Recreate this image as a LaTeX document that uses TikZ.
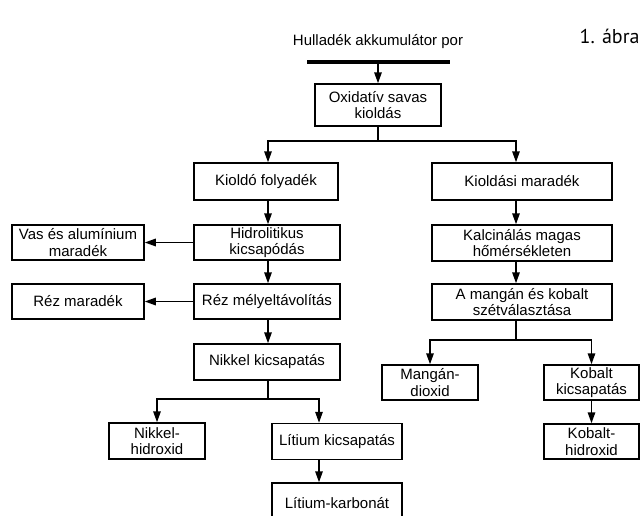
\documentclass[tikz,border=0pt]{standalone}
\usepackage{fontspec}
\setmainfont{Liberation Sans}
\newfontfamily\capfont{PT Sans}
\usetikzlibrary{arrows.meta}
\begin{document}
\begin{tikzpicture}[x=1pt,y=-1pt,
  box/.style={draw, line width=1.5pt, inner sep=0pt, align=center,
    font=\fontsize{15}{16.5}\selectfont},
  ln/.style={line width=1.5pt},
  arr/.style={line width=1.5pt, -{Triangle[length=11pt,width=7.5pt]}}]
\useasboundingbox (0,0) rectangle (642,515);
\clip (0,0) rectangle (642,515);

% title
\node[font=\capfont\fontsize{20}{22}\selectfont, anchor=east] (title) at (643,36) {1. ábra};

% source
\node[font=\fontsize{15}{16.5}\selectfont] (src) at (378,42) {Hulladék akkumulátor por};
\coordinate (barL) at (307,62);
\coordinate (barR) at (450,62);
\coordinate (barM) at (378,62);
\draw[line width=4pt] (barL) -- (barR);

% chain x coordinates
\coordinate (xL) at (268,0);
\coordinate (xR) at (516,0);
\coordinate (xLi) at (319,0);

% boxes
\node[box, minimum width=126pt, minimum height=42pt] (ox) at (378,105) {Oxidatív savas\\kioldás};
\node[box, minimum width=144pt, minimum height=37pt] (kf) at (266,181.5) {Kioldó folyadék};
\node[box, minimum width=180pt, minimum height=37pt] (km) at (522,181.5) {Kioldási maradék};

\node[box, minimum width=146pt, minimum height=35pt] (hid) at (267,242.5) {Hidrolitikus\\kicsapódás};
\node[box, minimum width=132pt, minimum height=35pt] (vas) at (78,242.5) {Vas és alumínium\\maradék};
\node[box, minimum width=146pt, minimum height=35pt] (rez) at (267,301.5) {Réz mélyeltávolítás};
\node[box, minimum width=132pt, minimum height=35pt] (rezm) at (78,301.5) {Réz maradék};
\node[box, minimum width=146pt, minimum height=36pt] (nik) at (267,362) {Nikkel kicsapatás};
\node[box, minimum width=96pt, minimum height=36pt] (nh) at (157,441) {Nikkel-\\hidroxid};
\node[box, minimum width=130pt, minimum height=36pt] (lk) at (337,441.5) {Lítium kicsapatás};
\node[box, minimum width=130pt, minimum height=40pt] (lc) at (337,503) {Lítium-karbonát};

\node[box, minimum width=180pt, minimum height=36pt] (kal) at (522,243) {Kalcinálás magas\\hőmérsékleten};
\node[box, minimum width=180pt, minimum height=36pt] (mk) at (522,302) {A mangán és kobalt\\szétválasztása};
\node[box, minimum width=96pt, minimum height=35pt] (md) at (430,382.5) {Mangán-\\dioxid};
\node[box, minimum width=95pt, minimum height=35pt] (kk) at (591.5,382.5) {Kobalt\\kicsapatás};
\node[box, minimum width=95pt, minimum height=35pt] (kh) at (591.5,441.5) {Kobalt-\\hidroxid};

% connectors
\draw[arr] (barM) -- (ox.north);
\coordinate (b1) at (378,141);
\draw[ln] (ox.south) -- (b1);
\draw[arr] (b1) -| (kf.north -| xL);
\draw[arr] (b1) -| (km.north -| xR);

\draw[arr] (kf.south -| xL) -- (hid.north -| xL);
\draw[arr] (hid.south -| xL) -- (rez.north -| xL);
\draw[arr] (rez.south -| xL) -- (nik.north -| xL);
\draw[arr] (hid.west) -- (vas.east);
\draw[arr] (rez.west) -- (rezm.east);

\coordinate (b2) at (268,399);
\draw[ln] (nik.south -| xL) -- (b2);
\draw[arr] (b2) -| (nh.north);
\draw[arr] (b2) -| (lk.north -| xLi);
\draw[arr] (lk.south -| xLi) -- (lc.north -| xLi);

\draw[arr] (km.south -| xR) -- (kal.north -| xR);
\draw[arr] (kal.south -| xR) -- (mk.north -| xR);
\coordinate (b3) at (516,340);
\draw[ln] (mk.south -| xR) -- (b3);
\draw[arr] (b3) -| (md.north);
\draw[arr] (b3) -| (kk.north);
\draw[arr] (kk.south) -- (kh.north);
\end{tikzpicture}
\end{document}
